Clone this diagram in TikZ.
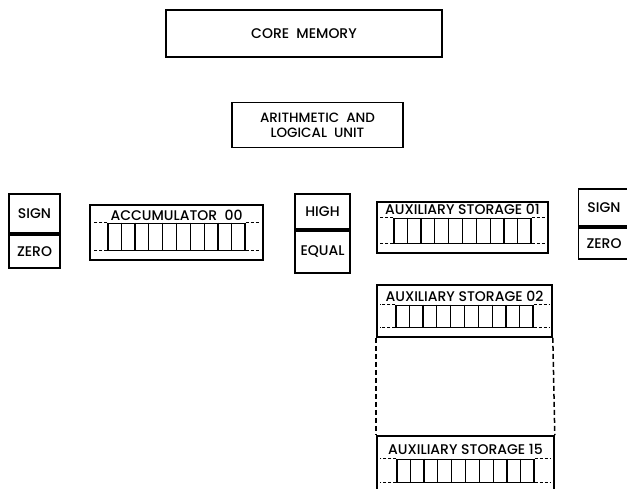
\documentclass[tikz,border=0pt]{standalone}
\usepackage{fontspec}
\setmainfont{Poppins}[BoldFont={Poppins Medium}]
\usetikzlibrary{calc}
\tikzset{
  box/.style={draw, line width=1.6pt, inner sep=0pt, font=\fontsize{14}{16}\bfseries, align=center},
  regbox/.style={draw, line width=1.3pt, inner sep=0pt, minimum width=137},
  cell/.style={line width=1.3pt},
  sidedash/.style={line width=1.3pt, dash pattern=on 3pt off 2pt},
  linkdash/.style={line width=1.5pt, dash pattern=on 5pt off 3pt},
  titletext/.style={inner sep=0pt, font=\fontsize{14}{16}\bfseries},
}
% #1 name, #2 cx, #3 cy, #4 w, #5 h, #6 title, #7 title offset, #8 register height, #9 register gap
\newcommand\storeunit[9]{%
  \node[box, minimum width=#4, minimum height=#5] (#1) at (#2,#3) {};
  \node[titletext] (#1t) at ($(#1.north)+(0,#7)$) {#6};
  \node[regbox, minimum height=#8, anchor=south] (#1r) at ($(#1.south)+(0,-#9)$) {};
  \foreach \k in {1,...,9}
    \draw[cell] ($(#1r.north west)!\k/10!(#1r.north east)$) -- ($(#1r.south west)!\k/10!(#1r.south east)$);
  \coordinate (#1L) at ($(#1.west)+(4,0)$);
  \coordinate (#1R) at ($(#1.east)+(-4,0)$);
  \draw[sidedash] (#1r.north west) -- (#1r.north west -| #1L);
  \draw[sidedash] (#1r.south west) -- (#1r.south west -| #1L);
  \draw[sidedash] (#1r.north east) -- (#1r.north east -| #1R);
  \draw[sidedash] (#1r.south east) -- (#1r.south east -| #1R);
}
\begin{document}
\begin{tikzpicture}[x=1pt,y=-1pt]
\useasboundingbox (0,0) rectangle (627,488);
% top units
\node[box, minimum width=276, minimum height=47] (core) at (304,33.5) {CORE\ \ MEMORY};
\node[box, minimum width=171, minimum height=45, font=\fontsize{13.5}{15}\bfseries] (alu) at (317.5,125) {ARITHMETIC\ \ AND\\LOGICAL\ \ UNIT};
% left sign/zero
\node[box, minimum width=51, minimum height=39, anchor=south] (sign1) at (34.5,234) {SIGN};
\node[box, minimum width=51, minimum height=33, anchor=north] (zero1) at (34.5,234) {ZERO};
% high/equal
\node[box, minimum width=55, minimum height=35, anchor=south] (high) at (322.5,230) {HIGH};
\node[box, minimum width=55, minimum height=42, anchor=north] (equal) at (322.5,230) {EQUAL};
% right sign/zero
\node[box, minimum width=51, minimum height=37, anchor=south] (sign2) at (604,227) {SIGN};
\node[box, minimum width=51, minimum height=31, anchor=north] (zero2) at (604,227) {ZERO};
% registers
\storeunit{acc}{176.5}{232.5}{173}{55}{ACCUMULATOR\ \ 00}{11}{27}{10}
\storeunit{auxa}{462.5}{227.5}{171}{51}{AUXILIARY STORAGE 01}{8.5}{25}{10}
\storeunit{auxb}{464.5}{311}{175}{52}{AUXILIARY STORAGE 02}{12.5}{22}{10}
\storeunit{auxc}{465.5}{463.5}{177}{55}{AUXILIARY STORAGE 15}{14.5}{23}{9}
% dashed continuation
\draw[linkdash] (auxb.south west) -- (auxc.north west);
\draw[linkdash] (auxb.south east) -- (auxc.north east);
\end{tikzpicture}
\end{document}
